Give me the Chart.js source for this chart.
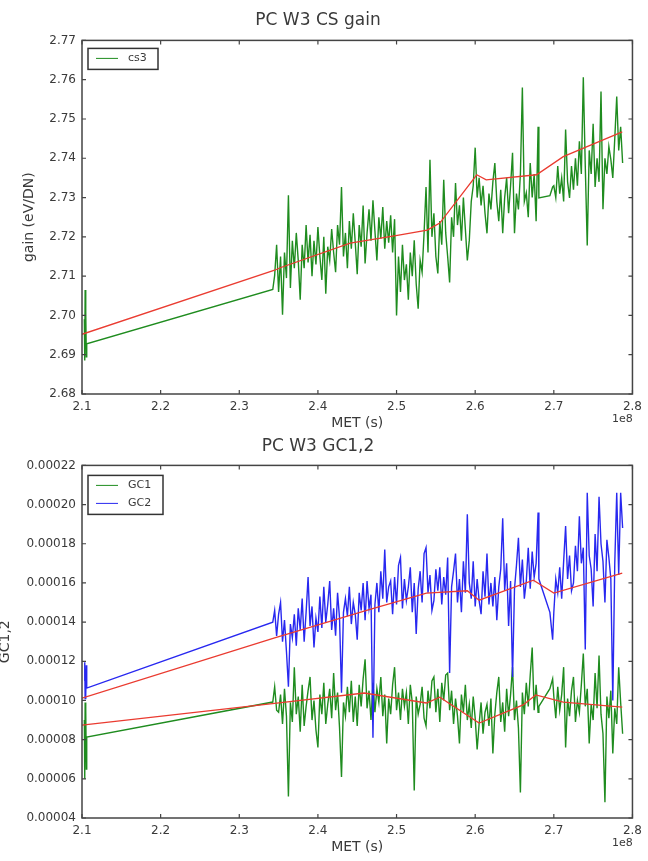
<!DOCTYPE html>
<html>
<head>
<meta charset="utf-8">
<title>PC W3 gain</title>
<script src="https://cdn.jsdelivr.net/npm/chart.js@4.4.1/dist/chart.umd.min.js"></script>
<style>
  html, body { margin: 0; padding: 0; background: #fff; }
  canvas { display: block; }
</style>
</head>
<body>
<canvas id="gainChart" width="648" height="436"></canvas>
<canvas id="gcChart" width="648" height="425"></canvas>
<script>
// MET in units of 1e8 s (shared by all three measured series)
const met = [
    2.1030, 2.1035, 2.1040, 2.1045, 2.1050, 2.1055, 2.1060,
    2.3426,
    2.3450, 2.3475, 2.3500, 2.3525, 2.3550, 2.3575, 2.3600, 2.3625, 2.3650, 2.3675,
    2.3700, 2.3725, 2.3750, 2.3775, 2.3800, 2.3825, 2.3850, 2.3875, 2.3900, 2.3925,
    2.3950, 2.3975, 2.4000, 2.4025, 2.4050, 2.4075, 2.4100, 2.4125, 2.4150, 2.4175,
    2.4200, 2.4225, 2.4250, 2.4275, 2.4300, 2.4325, 2.4350, 2.4375, 2.4400, 2.4425,
    2.4450, 2.4475, 2.4500, 2.4525, 2.4550, 2.4575, 2.4600, 2.4625, 2.4650, 2.4675,
    2.4700, 2.4725, 2.4750, 2.4775, 2.4800, 2.4825, 2.4850, 2.4875, 2.4900, 2.4925,
    2.4950, 2.4975, 2.5000, 2.5025, 2.5050, 2.5075, 2.5100, 2.5125, 2.5150, 2.5175,
    2.5200, 2.5225, 2.5250, 2.5275, 2.5300, 2.5325, 2.5350, 2.5375, 2.5400, 2.5425,
    2.5450, 2.5475, 2.5500, 2.5525, 2.5550, 2.5575, 2.5600, 2.5625, 2.5650, 2.5675,
    2.5700, 2.5725, 2.5750, 2.5775, 2.5800, 2.5825, 2.5850, 2.5875, 2.5900, 2.5925,
    2.5950, 2.5975, 2.6000, 2.6025, 2.6050, 2.6075, 2.6100, 2.6125, 2.6150, 2.6175,
    2.6200, 2.6225, 2.6250, 2.6275, 2.6300, 2.6325, 2.6350, 2.6375, 2.6400, 2.6425,
    2.6450, 2.6475, 2.6500, 2.6525, 2.6550, 2.6575, 2.6600, 2.6625, 2.6650, 2.6675,
    2.6700, 2.6725, 2.6750, 2.6775, 2.6800,
    2.6810, 2.6950, 2.6985,
    2.7000, 2.7025, 2.7050, 2.7075, 2.7100, 2.7125, 2.7150, 2.7175, 2.7200, 2.7225,
    2.7250, 2.7275, 2.7300, 2.7325, 2.7350, 2.7375, 2.7400, 2.7425, 2.7450, 2.7475,
    2.7500, 2.7525, 2.7550, 2.7575, 2.7600, 2.7625, 2.7650, 2.7675, 2.7700, 2.7725,
    2.7750, 2.7775, 2.7800, 2.7825, 2.7850, 2.7875
];

// CS gain (eV/DN)
const cs3 = [
    2.6990, 2.6885, 2.7065, 2.6920, 2.7010, 2.6895, 2.6928,
    2.7066,
    2.7102, 2.7180, 2.7060, 2.7150, 2.7002, 2.7160, 2.7095, 2.7306, 2.7070, 2.7190,
    2.7120, 2.7210, 2.7140, 2.7040, 2.7180, 2.7120, 2.7230, 2.7135, 2.7205, 2.7100,
    2.7190, 2.7130, 2.7225, 2.7150, 2.7090, 2.7200, 2.7055, 2.7175, 2.7140, 2.7220,
    2.7160, 2.7110, 2.7230, 2.7180, 2.7327, 2.7150, 2.7210, 2.7120, 2.7240, 2.7170,
    2.7260, 2.7185, 2.7105, 2.7230, 2.7175, 2.7280, 2.7132, 2.7210, 2.7270, 2.7190,
    2.7293, 2.7215, 2.7140, 2.7250, 2.7195, 2.7276, 2.7170, 2.7240, 2.7185, 2.7255,
    2.7160, 2.7245, 2.7000, 2.7150, 2.7060, 2.7180, 2.7090, 2.7130, 2.7040, 2.7160,
    2.7100, 2.7191, 2.7080, 2.7017, 2.7140, 2.7110, 2.7210, 2.7327, 2.7160, 2.7396,
    2.7200, 2.7260, 2.7150, 2.7107, 2.7240, 2.7180, 2.7345, 2.7210, 2.7150, 2.7084,
    2.7250, 2.7200, 2.7337, 2.7230, 2.7280, 2.7190, 2.7300, 2.7220, 2.7140, 2.7191,
    2.7290, 2.7330, 2.7427, 2.7300, 2.7350, 2.7280, 2.7330, 2.7260, 2.7209, 2.7310,
    2.7270, 2.7340, 2.7388, 2.7290, 2.7240, 2.7320, 2.7209, 2.7300, 2.7350, 2.7260,
    2.7330, 2.7414, 2.7209, 2.7310, 2.7270, 2.7360, 2.7580, 2.7290, 2.7312, 2.7250,
    2.7388, 2.7300, 2.7360, 2.7240, 2.7480,
    2.7299, 2.7305, 2.7327,
    2.7330, 2.7300, 2.7380, 2.7310, 2.7350, 2.7290, 2.7473, 2.7340, 2.7299, 2.7380,
    2.7320, 2.7400, 2.7330, 2.7443, 2.7360, 2.7606, 2.7380, 2.7178, 2.7420, 2.7360,
    2.7488, 2.7327, 2.7400, 2.7340, 2.7570, 2.7270, 2.7400, 2.7360, 2.7430, 2.7397,
    2.7350, 2.7450, 2.7557, 2.7420, 2.7480, 2.7388
];

// GC1 coefficient
const gc1 = [
    0.900e-4, 0.600e-4, 0.990e-4, 0.720e-4, 0.950e-4, 0.650e-4, 0.813e-4,
    0.992e-4,
    1.07e-4, 0.95e-4, 0.94e-4, 1.03e-4, 0.88e-4, 1.06e-4, 0.92e-4, 0.51e-4, 0.99e-4, 0.89e-4,
    1.17e-4, 0.93e-4, 1.02e-4, 0.84e-4, 1.08e-4, 0.87e-4, 0.97e-4, 1.05e-4, 1.12e-4, 0.90e-4,
    1.00e-4, 0.85e-4, 0.76e-4, 1.03e-4, 0.93e-4, 1.09e-4, 0.88e-4, 0.98e-4, 1.06e-4, 0.91e-4,
    1.14e-4, 0.95e-4, 1.04e-4, 0.86e-4, 0.61e-4, 0.99e-4, 0.92e-4, 1.07e-4, 0.94e-4, 1.10e-4,
    0.89e-4, 1.02e-4, 0.87e-4, 1.08e-4, 0.97e-4, 1.11e-4, 1.21e-4, 0.96e-4, 1.05e-4, 0.90e-4,
    1.09e-4, 0.94e-4, 1.06e-4, 0.99e-4, 1.12e-4, 0.92e-4, 1.03e-4, 0.78e-4, 1.01e-4, 0.93e-4,
    1.08e-4, 1.17e-4, 0.95e-4, 1.04e-4, 0.90e-4, 1.06e-4, 0.97e-4, 1.04e-4, 0.88e-4, 1.08e-4,
    0.99e-4, 0.54e-4, 1.02e-4, 0.93e-4, 0.98e-4, 1.07e-4, 0.91e-4, 0.87e-4, 1.05e-4, 0.96e-4,
    1.10e-4, 1.12e-4, 0.94e-4, 1.06e-4, 0.89e-4, 1.09e-4, 1.00e-4, 1.13e-4, 1.14e-4, 0.95e-4,
    1.05e-4, 0.88e-4, 1.01e-4, 0.92e-4, 0.78e-4, 1.03e-4, 0.94e-4, 1.08e-4, 0.90e-4, 0.98e-4,
    0.86e-4, 1.02e-4, 0.91e-4, 0.75e-4, 0.88e-4, 0.99e-4, 0.83e-4, 0.94e-4, 0.98e-4, 0.87e-4,
    1.01e-4, 0.73e-4, 0.93e-4, 1.04e-4, 1.12e-4, 0.89e-4, 0.99e-4, 0.84e-4, 1.06e-4, 0.92e-4,
    1.03e-4, 1.17e-4, 0.90e-4, 1.00e-4, 0.86e-4, 0.53e-4, 1.04e-4, 0.93e-4, 1.09e-4, 0.97e-4,
    1.13e-4, 1.27e-4, 0.95e-4, 1.08e-4, 0.94e-4,
    0.97e-4, 1.06e-4, 1.11e-4,
    1.02e-4, 0.91e-4, 1.07e-4, 0.95e-4, 1.03e-4, 1.17e-4, 0.76e-4, 1.01e-4, 0.92e-4, 1.05e-4,
    1.12e-4, 0.89e-4, 1.00e-4, 0.94e-4, 1.08e-4, 1.24e-4, 0.97e-4, 1.06e-4, 0.78e-4, 0.98e-4,
    0.90e-4, 1.14e-4, 0.96e-4, 1.23e-4, 0.93e-4, 0.83e-4, 0.48e-4, 1.02e-4, 0.91e-4, 1.05e-4,
    0.73e-4, 0.96e-4, 0.88e-4, 1.17e-4, 0.99e-4, 0.83e-4
];

// GC2 coefficient
const gc2 = [
    1.100e-4, 1.195e-4, 1.010e-4, 1.150e-4, 1.030e-4, 1.180e-4, 1.063e-4,
    1.400e-4,
    1.46e-4, 1.33e-4, 1.44e-4, 1.50e-4, 1.30e-4, 1.41e-4, 1.25e-4, 1.07e-4, 1.39e-4, 1.32e-4,
    1.44e-4, 1.28e-4, 1.47e-4, 1.36e-4, 1.52e-4, 1.30e-4, 1.45e-4, 1.63e-4, 1.38e-4, 1.48e-4,
    1.27e-4, 1.42e-4, 1.35e-4, 1.53e-4, 1.37e-4, 1.58e-4, 1.40e-4, 1.49e-4, 1.61e-4, 1.36e-4,
    1.47e-4, 1.33e-4, 1.55e-4, 1.42e-4, 1.04e-4, 1.45e-4, 1.52e-4, 1.43e-4, 1.58e-4, 1.39e-4,
    1.50e-4, 1.44e-4, 1.31e-4, 1.55e-4, 1.46e-4, 1.60e-4, 1.41e-4, 1.61e-4, 1.47e-4, 1.54e-4,
    0.81e-4, 1.49e-4, 1.60e-4, 1.45e-4, 1.66e-4, 1.52e-4, 1.77e-4, 1.50e-4, 1.58e-4, 1.61e-4,
    1.44e-4, 1.63e-4, 1.49e-4, 1.69e-4, 1.73e-4, 1.47e-4, 1.62e-4, 1.51e-4, 1.58e-4, 1.68e-4,
    1.45e-4, 1.60e-4, 1.34e-4, 1.57e-4, 1.66e-4, 1.50e-4, 1.75e-4, 1.78e-4, 1.55e-4, 1.64e-4,
    1.46e-4, 1.51e-4, 1.67e-4, 1.56e-4, 1.68e-4, 1.49e-4, 1.63e-4, 1.54e-4, 1.73e-4, 1.14e-4,
    1.58e-4, 1.66e-4, 1.75e-4, 1.50e-4, 1.62e-4, 1.45e-4, 1.71e-4, 1.55e-4, 1.95e-4, 1.60e-4,
    1.52e-4, 1.71e-4, 1.48e-4, 1.62e-4, 1.51e-4, 1.44e-4, 1.66e-4, 1.53e-4, 1.75e-4, 1.49e-4,
    1.60e-4, 1.48e-4, 1.63e-4, 1.41e-4, 1.58e-4, 1.67e-4, 1.93e-4, 1.56e-4, 1.70e-4, 1.38e-4,
    1.61e-4, 1.12e-4, 1.57e-4, 1.69e-4, 1.83e-4, 1.58e-4, 1.72e-4, 1.52e-4, 1.61e-4, 1.78e-4,
    1.57e-4, 1.76e-4, 1.63e-4, 1.70e-4, 1.96e-4,
    1.62e-4, 1.45e-4, 1.31e-4,
    1.45e-4, 1.62e-4, 1.55e-4, 1.68e-4, 1.52e-4, 1.71e-4, 1.89e-4, 1.62e-4, 1.74e-4, 1.56e-4,
    1.60e-4, 1.79e-4, 1.66e-4, 1.94e-4, 1.70e-4, 1.78e-4, 1.26e-4, 2.06e-4, 1.74e-4, 1.67e-4,
    1.48e-4, 1.85e-4, 1.66e-4, 2.04e-4, 1.80e-4, 1.71e-4, 1.50e-4, 1.82e-4, 1.73e-4, 1.62e-4,
    1.00e-4, 1.70e-4, 2.06e-4, 1.64e-4, 2.06e-4, 1.88e-4
];

// Piecewise fits (red lines)
const gainFitMet = [2.100, 2.345, 2.353, 2.441, 2.501, 2.539, 2.555, 2.602, 2.614, 2.678, 2.712, 2.787];
const gainFit = [2.6952, 2.7115, 2.7122, 2.7184, 2.7204, 2.7217, 2.7235, 2.7358, 2.7345, 2.7358, 2.7404, 2.7467];

const gc1FitMet = [2.100, 2.345, 2.459, 2.538, 2.555, 2.605, 2.661, 2.677, 2.712, 2.787];
const gc1Fit = [0.874e-4, 0.985e-4, 1.038e-4, 0.987e-4, 1.017e-4, 0.885e-4, 0.977e-4, 1.028e-4, 0.992e-4, 0.966e-4];

const gc2FitMet = [2.100, 2.345, 2.463, 2.538, 2.590, 2.605, 2.674, 2.700, 2.787];
const gc2Fit = [1.012e-4, 1.320e-4, 1.461e-4, 1.548e-4, 1.560e-4, 1.512e-4, 1.614e-4, 1.548e-4, 1.650e-4];

// Axis ticks
const metTicks = [2.1, 2.2, 2.3, 2.4, 2.5, 2.6, 2.7, 2.8];
const gainTicks = [2.68, 2.69, 2.70, 2.71, 2.72, 2.73, 2.74, 2.75, 2.76, 2.77];
const gcTicks = [0.00004, 0.00006, 0.00008, 0.00010, 0.00012, 0.00014, 0.00016, 0.00018, 0.00020, 0.00022];

const GREEN = '#1f8c1f';
const BLUE = '#2828f0';
const RED = '#ea3b30';
const TEXT = '#3a3a3a';

Chart.defaults.font.family = "'DejaVu Sans', sans-serif";
Chart.defaults.color = TEXT;

// Pair x and y arrays into points
function toPoints(xs, ys) {
    return xs.map((x, i) => ({ x: x, y: ys[i] }));
}

// Box around the plot with short inward ticks on every side
const framePlugin = {
    id: 'frame',
    afterDatasetsDraw(chart) {
        const { ctx, chartArea: a, scales } = chart;
        ctx.save();
        ctx.strokeStyle = '#444';
        ctx.lineWidth = 1.2;
        ctx.beginPath();
        scales.x.ticks.forEach(t => {
            const px = scales.x.getPixelForValue(t.value);
            ctx.moveTo(px, a.bottom); ctx.lineTo(px, a.bottom - 4);
            ctx.moveTo(px, a.top); ctx.lineTo(px, a.top + 4);
        });
        scales.y.ticks.forEach(t => {
            const py = scales.y.getPixelForValue(t.value);
            ctx.moveTo(a.left, py); ctx.lineTo(a.left + 4, py);
            ctx.moveTo(a.right, py); ctx.lineTo(a.right - 4, py);
        });
        ctx.stroke();
        ctx.lineWidth = 1.5;
        ctx.strokeRect(a.left, a.top, a.right - a.left, a.bottom - a.top);

        // Offset text for the MET axis
        ctx.fillStyle = TEXT;
        ctx.font = "11px 'DejaVu Sans'";
        ctx.textAlign = 'center';
        ctx.textBaseline = 'middle';
        ctx.fillText('1e8', a.right - 10, a.bottom + 25);
        ctx.restore();
    }
};

// Legend drawn in a framed box in the upper left of the plot
const boxLegendPlugin = {
    id: 'boxLegend',
    afterDatasetsDraw(chart, args, opts) {
        const { ctx, chartArea: a } = chart;
        const items = chart.data.datasets.filter(d => !d.isFit);
        const x = a.left + 6;
        const y = a.top + opts.top;
        const h = items.length * 18 + 3;
        ctx.save();
        ctx.fillStyle = '#fff';
        ctx.fillRect(x, y, opts.width, h);
        ctx.strokeStyle = '#333';
        ctx.lineWidth = 1.5;
        ctx.strokeRect(x, y, opts.width, h);
        ctx.font = "11px 'DejaVu Sans'";
        ctx.textAlign = 'left';
        ctx.textBaseline = 'middle';
        items.forEach((d, i) => {
            const cy = y + 10 + i * 18;
            ctx.strokeStyle = d.borderColor;
            ctx.lineWidth = 1;
            ctx.beginPath();
            ctx.moveTo(x + 8, cy);
            ctx.lineTo(x + 30, cy);
            ctx.stroke();
            ctx.fillStyle = TEXT;
            ctx.fillText(d.label, x + 40, cy);
        });
        ctx.restore();
    }
};

function makeChart(id, cfg) {
    const ctx = document.getElementById(id).getContext('2d');
    return new Chart(ctx, {
        type: 'line',
        data: { datasets: cfg.datasets },
        plugins: [framePlugin, boxLegendPlugin],
        options: {
            responsive: false,
            animation: false,
            devicePixelRatio: 1,
            parsing: false,
            layout: { padding: { left: 0, right: 12, top: 0, bottom: 0 } },
            elements: {
                point: { radius: 0 },
                line: { borderWidth: 1.4, tension: 0 }
            },
            plugins: {
                legend: { display: false },
                tooltip: { enabled: false },
                title: {
                    display: true,
                    text: cfg.title,
                    color: TEXT,
                    font: { size: 17, weight: 'normal' },
                    padding: cfg.titlePadding
                },
                boxLegend: { top: cfg.legendTop, width: cfg.legendWidth }
            },
            scales: {
                x: {
                    type: 'linear',
                    min: 2.1,
                    max: 2.8,
                    afterBuildTicks: s => { s.ticks = metTicks.map(v => ({ value: v })); },
                    afterFit: s => { s.height = cfg.xAxisHeight; },
                    grid: { display: false, drawTicks: false },
                    border: { display: false },
                    ticks: {
                        color: TEXT,
                        font: { size: 12 },
                        padding: 6,
                        maxRotation: 0,
                        autoSkip: false,
                        callback: v => v.toFixed(1)
                    },
                    title: {
                        display: true,
                        text: 'MET (s)',
                        color: TEXT,
                        font: { size: 14 },
                        padding: { top: 0, bottom: cfg.xTitleBottom }
                    }
                },
                y: {
                    type: 'linear',
                    min: cfg.yTicks[0],
                    max: cfg.yTicks[cfg.yTicks.length - 1],
                    afterBuildTicks: s => { s.ticks = cfg.yTicks.map(v => ({ value: v })); },
                    afterFit: s => { s.width = 82; },
                    grid: { display: false, drawTicks: false },
                    border: { display: false },
                    ticks: {
                        color: TEXT,
                        font: { size: 12 },
                        padding: 6,
                        autoSkip: false,
                        callback: cfg.yFormat
                    },
                    title: {
                        display: true,
                        text: cfg.yTitle,
                        color: TEXT,
                        font: { size: 14 },
                        padding: { top: cfg.yTitleTop, bottom: 0 }
                    }
                }
            }
        }
    });
}

// Top panel: CS gain
makeChart('gainChart', {
    title: 'PC W3 CS gain',
    titlePadding: { top: 10, bottom: 10 },
    yTitle: 'gain (eV/DN)',
    yTitleTop: 21,
    yTicks: gainTicks,
    yFormat: v => v.toFixed(2),
    xAxisHeight: 42,
    xTitleBottom: 4,
    legendTop: 8,
    legendWidth: 70,
    datasets: [
        { label: 'cs3', data: toPoints(met, cs3), borderColor: GREEN, order: 1 },
        { label: 'fit', data: toPoints(gainFitMet, gainFit), borderColor: RED, borderWidth: 1.3, order: 0, isFit: true }
    ]
});

// Bottom panel: GC1 and GC2
makeChart('gcChart', {
    title: 'PC W3 GC1,2',
    titlePadding: { top: 0, bottom: 9 },
    yTitle: 'GC1,2',
    yTitleTop: -3,
    yTicks: gcTicks,
    yFormat: v => v.toFixed(5),
    xAxisHeight: 43,
    xTitleBottom: 5,
    legendTop: 10,
    legendWidth: 75,
    datasets: [
        { label: 'GC1', data: toPoints(met, gc1), borderColor: GREEN, order: 2 },
        { label: 'GC2', data: toPoints(met, gc2), borderColor: BLUE, order: 1 },
        { label: 'fit1', data: toPoints(gc1FitMet, gc1Fit), borderColor: RED, borderWidth: 1.3, order: 0, isFit: true },
        { label: 'fit2', data: toPoints(gc2FitMet, gc2Fit), borderColor: RED, borderWidth: 1.3, order: 0, isFit: true }
    ]
});
</script>
</body>
</html>
